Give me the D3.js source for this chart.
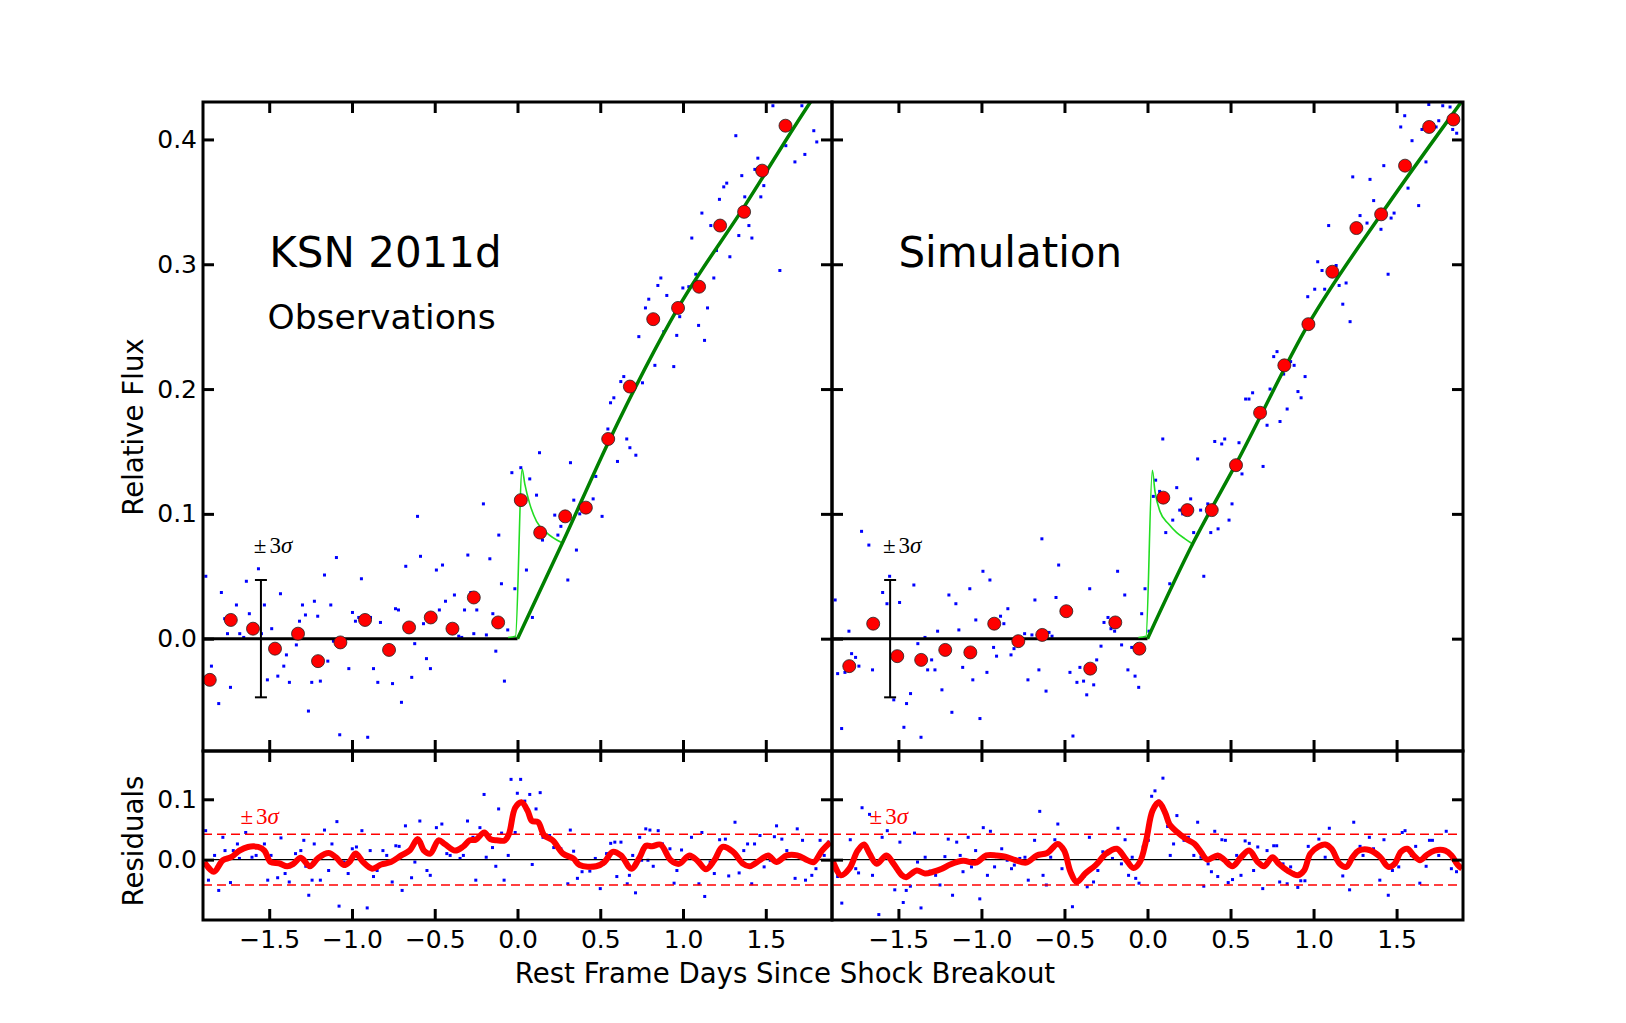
<!DOCTYPE html>
<html>
<head>
<meta charset="utf-8">
<script src="https://cdn.jsdelivr.net/npm/d3@7"></script>
<style>
  body { margin: 0; background: #fff; }
  svg { display: block; font-family: "DejaVu Sans", sans-serif; }
</style>
</head>
<body>
<svg id="canvas" width="1626" height="1023"></svg>
<script>
(function () {

    // Axis domains and ticks.
    var dayDomain = [-1.9, 1.9];
    var fluxDomain = [-0.09, 0.43];
    var residDomain = [-0.1, 0.18];
    var dayTicks = [-1.5, -1.0, -0.5, 0.0, 0.5, 1.0, 1.5];
    var fluxTicks = [0.0, 0.1, 0.2, 0.3, 0.4];
    var residTicks = [0.0, 0.1];

    // Error bar (+-3 sigma) and residual band.
    var sigmaBarDay = -1.55;
    var sigmaFlux = 0.047;
    var sigmaResid = 0.042;

    // Binned fluxes (red dots).
    var obsBin = [[-1.859,-0.033],[-1.732,0.015],[-1.598,0.008],[-1.465,-0.008],[-1.326,0.004],[-1.205,-0.018],[-1.070,-0.003],[-0.921,0.015],[-0.776,-0.009],[-0.655,0.009],[-0.524,0.017],[-0.393,0.008],[-0.264,0.033],[-0.117,0.013],[0.020,0.111],[0.137,0.085],[0.288,0.098],[0.413,0.105],[0.548,0.160],[0.679,0.202],[0.820,0.256],[0.970,0.265],[1.097,0.282],[1.224,0.331],[1.369,0.342],[1.478,0.375],[1.619,0.411]];
    var simBin = [[-1.796,-0.022],[-1.652,0.012],[-1.507,-0.014],[-1.363,-0.017],[-1.218,-0.009],[-1.067,-0.011],[-0.923,0.012],[-0.778,-0.002],[-0.634,0.003],[-0.489,0.022],[-0.345,-0.024],[-0.194,0.013],[-0.049,-0.008],[0.095,0.113],[0.240,0.103],[0.387,0.103],[0.533,0.139],[0.678,0.181],[0.824,0.219],[0.969,0.252],[1.113,0.294],[1.258,0.329],[1.407,0.340],[1.551,0.379],[1.696,0.410],[1.842,0.416]];

    // Raw fluxes (blue points).
    var obsRaw = [[-1.883,0.050],[-1.789,0.037],[-1.849,-0.022],[-1.805,-0.052],[-1.734,-0.039],[-1.752,0.004],[-1.769,0.016],[-1.698,0.027],[-1.678,0.004],[-1.654,0.001],[-1.638,0.046],[-1.620,0.020],[-1.565,0.056],[-1.529,0.027],[-1.547,0.004],[-1.485,0.008],[-1.511,-0.033],[-1.448,-0.030],[-1.432,0.036],[-1.396,-0.013],[-1.412,-0.022],[-1.378,-0.035],[-1.336,-0.005],[-1.317,0.014],[-1.299,0.027],[-1.281,0.019],[-1.263,-0.058],[-1.243,-0.035],[-1.227,0.030],[-1.207,0.018],[-1.191,-0.034],[-1.166,0.051],[-1.146,-0.018],[-1.128,0.027],[-1.112,-0.002],[-1.094,0.065],[-1.074,-0.077],[-1.019,-0.024],[-0.997,0.021],[-0.979,0.014],[-0.959,0.017],[-0.943,0.048],[-0.905,-0.079],[-0.888,0.017],[-0.870,-0.024],[-0.844,-0.035],[-0.828,0.013],[-0.755,-0.036],[-0.737,0.024],[-0.719,0.023],[-0.701,-0.051],[-0.675,0.058],[-0.639,-0.031],[-0.621,-0.004],[-0.604,0.098],[-0.586,0.066],[-0.568,0.012],[-0.550,-0.016],[-0.526,-0.024],[-0.490,0.055],[-0.472,0.023],[-0.453,0.059],[-0.435,0.030],[-0.381,0.035],[-0.355,0.002],[-0.337,0.001],[-0.320,0.023],[-0.300,0.067],[-0.282,0.037],[-0.264,0.004],[-0.246,0.023],[-0.206,0.108],[-0.188,0.003],[-0.167,0.064],[-0.149,0.020],[-0.131,-0.010],[-0.113,0.083],[-0.097,0.044],[-0.079,-0.034],[-0.059,0.007],[-0.034,0.133],[-0.016,0.040],[0.020,0.137],[0.054,0.055],[0.074,0.128],[0.090,0.017],[0.115,0.115],[0.133,0.149],[0.151,0.079],[0.225,0.099],[0.244,0.083],[0.262,0.090],[0.304,0.047],[0.320,0.141],[0.340,0.111],[0.356,0.071],[0.376,0.100],[0.457,0.112],[0.473,0.130],[0.511,0.098],[0.546,0.168],[0.562,0.189],[0.604,0.142],[0.660,0.160],[0.679,0.153],[0.715,0.147],[0.582,0.193],[0.624,0.206],[0.642,0.210],[0.755,0.205],[0.733,0.242],[0.830,0.219],[0.944,0.218],[0.773,0.265],[0.793,0.272],[0.848,0.283],[0.866,0.289],[0.902,0.275],[0.884,0.246],[0.962,0.243],[0.980,0.258],[0.999,0.281],[1.035,0.282],[1.077,0.292],[1.094,0.251],[1.130,0.239],[1.148,0.265],[1.186,0.289],[1.053,0.321],[1.114,0.341],[1.168,0.331],[1.202,0.311],[1.220,0.352],[1.246,0.362],[1.264,0.365],[1.283,0.306],[1.319,0.403],[1.337,0.323],[1.355,0.371],[1.373,0.354],[1.398,0.331],[1.416,0.321],[1.434,0.376],[1.452,0.385],[1.470,0.354],[1.488,0.363],[1.543,0.427],[1.585,0.295],[1.621,0.395],[1.676,0.382],[1.718,0.427],[1.736,0.388],[1.790,0.407],[1.808,0.398]];
    var simRaw = [[-1.881,0.031],[-1.866,-0.028],[-1.842,-0.072],[-1.798,0.006],[-1.822,-0.027],[-1.782,-0.012],[-1.758,-0.015],[-1.738,-0.022],[-1.722,0.086],[-1.678,0.075],[-1.656,-0.025],[-1.595,0.037],[-1.569,0.028],[-1.553,0.050],[-1.528,-0.049],[-1.493,0.029],[-1.467,-0.071],[-1.451,-0.052],[-1.427,-0.044],[-1.407,0.043],[-1.383,-0.004],[-1.364,-0.079],[-1.340,0.001],[-1.324,-0.025],[-1.300,-0.017],[-1.280,-0.025],[-1.264,0.006],[-1.238,-0.041],[-1.196,0.035],[-1.178,-0.059],[-1.154,0.028],[-1.136,0.007],[-1.113,-0.023],[-1.070,0.040],[-1.052,-0.033],[-1.034,0.015],[-1.009,-0.064],[-0.991,0.054],[-0.967,-0.027],[-0.949,0.047],[-0.927,-0.007],[-0.909,-0.014],[-0.885,0.018],[-0.865,0.012],[-0.841,0.024],[-0.822,-0.013],[-0.804,-0.008],[-0.740,0.004],[-0.720,-0.033],[-0.696,0.003],[-0.678,0.031],[-0.654,-0.025],[-0.636,0.080],[-0.611,-0.042],[-0.593,0.005],[-0.575,0.002],[-0.551,0.033],[-0.535,0.059],[-0.467,-0.027],[-0.449,-0.078],[-0.425,-0.035],[-0.407,-0.023],[-0.385,-0.034],[-0.366,-0.045],[-0.348,0.040],[-0.324,-0.037],[-0.306,-0.017],[-0.280,-0.006],[-0.262,0.013],[-0.238,0.017],[-0.220,0.008],[-0.198,0.006],[-0.180,0.054],[-0.156,-0.005],[-0.137,0.035],[-0.118,-0.025],[-0.095,-0.007],[-0.075,-0.030],[-0.053,-0.039],[-0.035,0.020],[-0.015,0.040],[0.009,0.006],[0.035,0.114],[0.049,0.127],[0.073,0.118],[0.092,0.160],[0.110,0.085],[0.134,0.044],[0.152,0.095],[0.176,0.121],[0.194,0.103],[0.212,0.100],[0.260,0.112],[0.278,0.085],[0.302,0.144],[0.320,0.103],[0.339,0.050],[0.363,0.108],[0.381,0.085],[0.405,0.158],[0.425,0.088],[0.447,0.156],[0.465,0.160],[0.491,0.095],[0.509,0.108],[0.551,0.157],[0.569,0.132],[0.696,0.138],[0.720,0.171],[0.798,0.174],[0.841,0.184],[0.591,0.192],[0.611,0.192],[0.633,0.197],[0.738,0.200],[0.760,0.226],[0.780,0.230],[0.820,0.212],[0.862,0.222],[0.883,0.219],[0.906,0.198],[0.925,0.193],[0.949,0.210],[0.965,0.274],[1.007,0.280],[1.025,0.302],[1.051,0.295],[1.067,0.280],[1.091,0.331],[1.136,0.299],[1.154,0.283],[1.176,0.268],[1.196,0.285],[1.220,0.254],[1.236,0.370],[1.280,0.339],[1.322,0.333],[1.340,0.368],[1.362,0.351],[1.406,0.328],[1.423,0.379],[1.449,0.292],[1.467,0.337],[1.485,0.341],[1.525,0.410],[1.549,0.419],[1.569,0.361],[1.593,0.399],[1.633,0.347],[1.653,0.408],[1.677,0.382],[1.694,0.428],[1.738,0.410],[1.754,0.415],[1.778,0.427],[1.822,0.426],[1.838,0.408],[1.862,0.405]];

    // Pre-explosion baseline (black), rise model (dark green), shock cooling model (light green).
    var baseline = [[-1.9,0],[0,0]];
    var obsRise = [[0,0],[0.276,0.078],[0.548,0.157],[0.970,0.265],[1.369,0.346],[1.770,0.430],[1.950,0.465]];
    var simRise = [[0,0],[0.276,0.077],[0.533,0.140],[0.969,0.252],[1.407,0.340],[1.890,0.430],[1.950,0.441]];
    var obsShock = [[-0.057,0.001],[-0.012,0.002],[0.028,0.136],[0.044,0.124],[0.074,0.108],[0.115,0.094],[0.175,0.085],[0.266,0.077]];
    var simShock = [[-0.055,0.001],[-0.009,0.002],[0.029,0.135],[0.045,0.118],[0.075,0.102],[0.126,0.092],[0.176,0.085],[0.226,0.080],[0.270,0.076]];

    // Residual points (blue) and smoothed residuals (red).
    var obsResid = [[-1.884,0.048],[-1.867,-0.034],[-1.830,0.007],[-1.805,-0.051],[-1.780,0.037],[-1.767,0.015],[-1.734,-0.038],[-1.717,0.015],[-1.692,0.026],[-1.680,0.002],[-1.642,0.045],[-1.604,0.004],[-1.579,0.007],[-1.529,0.026],[-1.509,-0.034],[-1.489,0.007],[-1.449,-0.030],[-1.429,0.036],[-1.404,-0.023],[-1.379,-0.037],[-1.341,0.010],[-1.309,0.015],[-1.291,0.032],[-1.279,-0.011],[-1.261,-0.059],[-1.241,-0.034],[-1.228,0.026],[-1.191,-0.034],[-1.166,0.049],[-1.141,-0.018],[-1.121,0.026],[-1.091,0.063],[-1.078,-0.077],[-1.048,-0.004],[-1.023,-0.023],[-0.998,0.018],[-0.973,0.021],[-0.940,0.048],[-0.908,-0.080],[-0.890,0.015],[-0.870,-0.028],[-0.848,-0.018],[-0.813,0.015],[-0.790,0.007],[-0.757,-0.037],[-0.735,0.023],[-0.715,0.022],[-0.697,-0.051],[-0.677,0.056],[-0.640,-0.030],[-0.620,-0.004],[-0.590,0.064],[-0.572,0.015],[-0.547,-0.018],[-0.527,-0.026],[-0.490,0.053],[-0.457,0.059],[-0.427,0.010],[-0.407,0.007],[-0.347,0.002],[-0.327,0.007],[-0.302,0.064],[-0.287,0.032],[-0.269,0.037],[-0.252,-0.034],[-0.227,0.053],[-0.202,0.108],[-0.189,0.004],[-0.151,0.020],[-0.131,-0.011],[-0.114,0.084],[-0.096,0.044],[-0.081,-0.034],[-0.056,0.007],[-0.039,0.133],[-0.014,0.045],[-0.001,0.110],[0.019,0.133],[0.044,0.097],[0.074,0.108],[0.089,-0.008],[0.112,0.084],[0.137,0.111],[0.154,0.037],[0.194,0.040],[0.219,0.020],[0.262,0.018],[0.304,-0.040],[0.319,0.049],[0.339,0.014],[0.362,-0.031],[0.390,-0.020],[0.437,-0.019],[0.470,0.002],[0.500,-0.048],[0.520,-0.007],[0.538,0.010],[0.563,0.027],[0.588,0.029],[0.600,-0.028],[0.625,0.029],[0.663,-0.040],[0.676,-0.026],[0.696,0.007],[0.713,-0.055],[0.738,0.037],[0.750,-0.001],[0.775,0.051],[0.788,-0.001],[0.800,0.049],[0.820,-0.011],[0.850,0.048],[0.876,0.026],[0.921,0.018],[0.946,-0.039],[0.963,-0.018],[0.991,0.016],[1.013,0.002],[1.051,0.037],[1.096,-0.040],[1.114,0.045],[1.131,-0.061],[1.164,-0.004],[1.189,-0.023],[1.221,0.033],[1.256,0.034],[1.276,-0.027],[1.314,0.062],[1.339,-0.022],[1.367,0.015],[1.390,0.026],[1.415,-0.040],[1.432,0.026],[1.465,0.040],[1.490,-0.012],[1.527,-0.001],[1.552,0.038],[1.565,0.056],[1.597,0.034],[1.627,0.015],[1.677,-0.031],[1.690,0.051],[1.722,0.032],[1.740,-0.034],[1.778,-0.026],[1.803,-0.015],[1.828,0.032],[1.853,0.007],[1.878,0.029]];
    var simResid = [[-1.866,-0.028],[-1.841,-0.072],[-1.790,0.033],[-1.757,-0.015],[-1.740,-0.022],[-1.719,0.086],[-1.674,0.075],[-1.656,-0.026],[-1.618,-0.091],[-1.598,0.037],[-1.567,0.048],[-1.542,-0.001],[-1.522,-0.050],[-1.491,0.029],[-1.471,-0.071],[-1.453,-0.051],[-1.428,-0.044],[-1.403,0.044],[-1.385,-0.004],[-1.364,-0.080],[-1.339,0.004],[-1.309,-0.019],[-1.276,-0.026],[-1.250,-0.042],[-1.220,0.005],[-1.200,0.034],[-1.174,-0.059],[-1.149,0.029],[-1.128,0.007],[-1.111,-0.020],[-1.080,0.037],[-1.060,-0.012],[-1.035,0.015],[-1.010,-0.065],[-0.989,0.053],[-0.964,-0.026],[-0.946,0.047],[-0.921,-0.012],[-0.895,0.007],[-0.878,0.018],[-0.845,-0.001],[-0.819,-0.015],[-0.802,-0.009],[-0.769,0.002],[-0.738,0.004],[-0.718,-0.034],[-0.680,0.032],[-0.649,0.080],[-0.629,-0.026],[-0.609,-0.042],[-0.583,0.004],[-0.558,0.033],[-0.540,0.059],[-0.515,-0.015],[-0.452,-0.078],[-0.414,-0.034],[-0.380,-0.027],[-0.363,-0.045],[-0.350,0.037],[-0.325,-0.037],[-0.299,-0.018],[-0.269,0.013],[-0.236,0.015],[-0.211,0.002],[-0.178,0.052],[-0.157,-0.007],[-0.135,0.033],[-0.114,-0.026],[-0.092,0.004],[-0.071,-0.031],[-0.051,-0.039],[-0.026,0.021],[0.005,0.032],[0.025,0.105],[0.045,0.114],[0.068,0.097],[0.093,0.135],[0.121,0.055],[0.137,0.007],[0.157,0.026],[0.177,0.073],[0.203,0.040],[0.220,0.032],[0.246,0.037],[0.279,0.007],[0.302,0.062],[0.322,0.004],[0.339,-0.044],[0.365,-0.007],[0.385,-0.020],[0.405,0.047],[0.423,-0.028],[0.448,0.033],[0.469,0.032],[0.486,-0.038],[0.512,-0.033],[0.537,0.007],[0.563,-0.026],[0.588,0.031],[0.613,0.027],[0.639,-0.018],[0.664,0.021],[0.694,-0.048],[0.720,0.015],[0.745,0.004],[0.760,0.023],[0.778,0.023],[0.796,-0.037],[0.816,-0.007],[0.841,-0.040],[0.862,-0.012],[0.879,-0.022],[0.905,-0.046],[0.923,-0.035],[0.948,-0.035],[0.968,0.022],[1.006,0.018],[1.032,0.034],[1.070,0.004],[1.095,0.052],[1.133,0.000],[1.176,-0.027],[1.217,-0.050],[1.242,0.062],[1.280,0.022],[1.298,0.007],[1.336,0.037],[1.361,0.018],[1.399,-0.034],[1.424,0.033],[1.450,-0.059],[1.475,-0.018],[1.513,-0.012],[1.534,0.045],[1.551,0.048],[1.589,0.007],[1.615,0.022],[1.640,-0.039],[1.678,-0.011],[1.698,0.032],[1.716,0.032],[1.754,0.007],[1.799,0.047],[1.830,-0.015],[1.861,-0.020]];
    var obsResidSmooth = [[-1.892,-0.004],[-1.835,-0.020],[-1.780,-0.001],[-1.730,0.004],[-1.680,0.015],[-1.629,0.021],[-1.567,0.021],[-1.529,0.015],[-1.492,-0.004],[-1.441,-0.006],[-1.391,-0.011],[-1.354,-0.007],[-1.309,0.003],[-1.254,-0.011],[-1.203,0.003],[-1.141,0.011],[-1.098,0.004],[-1.048,-0.009],[-1.016,-0.004],[-0.978,0.010],[-0.933,-0.004],[-0.878,-0.015],[-0.823,-0.008],[-0.765,-0.004],[-0.702,0.007],[-0.652,0.015],[-0.602,0.034],[-0.565,0.015],[-0.527,0.010],[-0.477,0.032],[-0.440,0.026],[-0.377,0.015],[-0.327,0.022],[-0.289,0.032],[-0.252,0.033],[-0.201,0.045],[-0.164,0.034],[-0.126,0.032],[-0.076,0.032],[-0.051,0.043],[-0.014,0.086],[0.024,0.095],[0.061,0.081],[0.087,0.064],[0.124,0.062],[0.162,0.040],[0.212,0.032],[0.275,0.010],[0.337,0.002],[0.375,-0.009],[0.475,-0.011],[0.525,-0.004],[0.575,0.013],[0.625,0.007],[0.688,-0.015],[0.738,0.004],[0.776,0.023],[0.813,0.022],[0.863,0.025],[0.926,-0.001],[0.976,-0.007],[1.038,0.007],[1.088,-0.002],[1.139,-0.016],[1.189,-0.001],[1.239,0.021],[1.302,0.013],[1.364,-0.007],[1.402,-0.011],[1.464,-0.001],[1.514,0.007],[1.564,-0.004],[1.627,0.007],[1.690,0.007],[1.752,-0.001],[1.790,-0.004],[1.840,0.015],[1.890,0.029]];
    var simResidSmooth = [[-1.897,-0.001],[-1.846,-0.026],[-1.796,-0.015],[-1.745,0.015],[-1.707,0.025],[-1.674,0.010],[-1.631,-0.007],[-1.572,0.007],[-1.529,-0.007],[-1.478,-0.026],[-1.453,-0.029],[-1.390,-0.018],[-1.340,-0.023],[-1.289,-0.020],[-1.238,-0.015],[-1.188,-0.008],[-1.111,-0.002],[-1.035,-0.005],[-0.971,0.007],[-0.908,0.007],[-0.857,0.005],[-0.794,-0.001],[-0.730,-0.005],[-0.667,0.007],[-0.604,0.011],[-0.540,0.026],[-0.502,0.015],[-0.464,-0.020],[-0.426,-0.037],[-0.375,-0.023],[-0.312,-0.009],[-0.249,0.010],[-0.185,0.018],[-0.134,0.002],[-0.084,-0.014],[-0.046,-0.004],[-0.008,0.032],[0.030,0.081],[0.068,0.095],[0.106,0.078],[0.132,0.059],[0.182,0.045],[0.233,0.034],[0.284,0.026],[0.321,0.013],[0.360,0.000],[0.423,0.007],[0.461,0.000],[0.512,-0.011],[0.563,0.004],[0.613,0.015],[0.664,-0.004],[0.702,-0.011],[0.753,0.004],[0.791,-0.007],[0.842,-0.018],[0.905,-0.026],[0.943,-0.018],[0.981,0.010],[1.032,0.022],[1.070,0.025],[1.108,0.018],[1.158,-0.007],[1.197,-0.012],[1.235,0.004],[1.273,0.015],[1.336,0.016],[1.399,0.005],[1.450,-0.012],[1.488,-0.007],[1.526,0.013],[1.565,0.018],[1.603,0.007],[1.641,-0.001],[1.678,0.007],[1.729,0.015],[1.793,0.015],[1.831,0.007],[1.869,-0.009],[1.894,-0.015]];

    // Layout.
    var top = 102, split = 751, bottom = 920;
    var tickLen = 11;
    var panels = [
        { left: 203, right: 832, title: "KSN 2011d", subtitle: "Observations", bin: obsBin, raw: obsRaw, rise: obsRise, shock: obsShock, resid: obsResid, smooth: obsResidSmooth, labels: true },
        { left: 832, right: 1463, title: "Simulation", subtitle: null, bin: simBin, raw: simRaw, rise: simRise, shock: simShock, resid: simResid, smooth: simResidSmooth, labels: false }
    ];

    var svg = d3.select("#canvas");
    var fmt = d3.format(".1f");

    // Draw a framed box with inward ticks on all four sides.
    function frame(g, x, y, xt, yt, showX, showY) {
        var x0 = x.range()[0], x1 = x.range()[1];
        var y0 = y.range()[1], y1 = y.range()[0];
        var axes = [
            { a: d3.axisBottom(x).tickValues(xt), t: "translate(0," + y1 + ")", lab: showX },
            { a: d3.axisTop(x).tickValues(xt), t: "translate(0," + y0 + ")", lab: false },
            { a: d3.axisLeft(y).tickValues(yt), t: "translate(" + x0 + ",0)", lab: showY },
            { a: d3.axisRight(y).tickValues(yt), t: "translate(" + x1 + ",0)", lab: false }
        ];
        axes.forEach(function (d, i) {
            d.a.tickSizeInner(-tickLen).tickSizeOuter(0)
                .tickPadding(i === 0 ? 10 : 6)
                .tickFormat(d.lab ? fmt : "");
            var ag = g.append("g").attr("transform", d.t).call(d.a);
            ag.select(".domain").remove();
            ag.selectAll(".tick line").attr("stroke", "#000").attr("stroke-width", 3);
            ag.selectAll(".tick text")
                .attr("fill", "#000")
                .style("font-family", "DejaVu Sans")
                .style("font-size", "25px");
        });
        g.append("rect")
            .attr("x", x0).attr("y", y0)
            .attr("width", x1 - x0).attr("height", y1 - y0)
            .attr("fill", "none").attr("stroke", "#000").attr("stroke-width", 3);
    }

    // "+-3 sigma" in a math-like serif face.
    function sigmaLabel(g, x, y, colour) {
        var t = g.append("text")
            .attr("x", x).attr("y", y)
            .attr("fill", colour)
            .style("font-family", "Liberation Serif, DejaVu Serif, serif")
            .style("font-size", "23px");
        t.append("tspan").text("\u00b1");
        t.append("tspan").attr("dx", 3).text("3");
        t.append("tspan").attr("font-style", "italic").text("\u03c3");
    }

    panels.forEach(function (p, i) {
        var x = d3.scaleLinear().domain(dayDomain).range([p.left, p.right]);
        var yMain = d3.scaleLinear().domain(fluxDomain).range([split, top]);
        var yRes = d3.scaleLinear().domain(residDomain).range([bottom, split]);

        var defs = svg.append("defs");
        defs.append("clipPath").attr("id", "clipM" + i).append("rect")
            .attr("x", p.left).attr("y", top).attr("width", p.right - p.left).attr("height", split - top);
        defs.append("clipPath").attr("id", "clipR" + i).append("rect")
            .attr("x", p.left).attr("y", split).attr("width", p.right - p.left).attr("height", bottom - split);

        var line = function (ys, curve) {
            return d3.line().x(d => x(d[0])).y(d => ys(d[1])).curve(curve || d3.curveLinear);
        };

        // Main light-curve panel.
        var m = svg.append("g").attr("clip-path", "url(#clipM" + i + ")");

        m.selectAll("rect.raw").data(p.raw).enter().append("rect")
            .attr("class", "raw")
            .attr("x", d => x(d[0]) - 1.5).attr("y", d => yMain(d[1]) - 1.5)
            .attr("width", 3).attr("height", 3)
            .attr("fill", "#0000ff");

        m.append("path").datum(baseline)
            .attr("d", line(yMain))
            .attr("fill", "none").attr("stroke", "#000").attr("stroke-width", 3);
        m.append("path").datum(p.shock)
            .attr("d", line(yMain, d3.curveMonotoneX))
            .attr("fill", "none").attr("stroke", "#22dd22").attr("stroke-width", 1.6);
        m.append("path").datum(p.rise)
            .attr("d", line(yMain, d3.curveMonotoneX))
            .attr("fill", "none").attr("stroke", "#008000").attr("stroke-width", 3.5);

        m.selectAll("circle.bin").data(p.bin).enter().append("circle")
            .attr("class", "bin")
            .attr("cx", d => x(d[0])).attr("cy", d => yMain(d[1]))
            .attr("r", 6.5)
            .attr("fill", "#ff0000").attr("stroke", "#222").attr("stroke-width", 0.8);

        // Error bar of +-3 sigma.
        var eb = svg.append("g").attr("stroke", "#000").attr("stroke-width", 2);
        eb.append("line")
            .attr("x1", x(sigmaBarDay)).attr("x2", x(sigmaBarDay))
            .attr("y1", yMain(sigmaFlux)).attr("y2", yMain(-sigmaFlux));
        [sigmaFlux, -sigmaFlux].forEach(function (v) {
            eb.append("line")
                .attr("x1", x(sigmaBarDay) - 6).attr("x2", x(sigmaBarDay) + 6)
                .attr("y1", yMain(v)).attr("y2", yMain(v));
        });
        sigmaLabel(svg, x(-1.593), yMain(0.069), "#000");

        svg.append("text")
            .attr("x", x(-1.5)).attr("y", yMain(0.298))
            .style("font-size", "42px")
            .text(p.title);
        if (p.subtitle) {
            svg.append("text")
                .attr("x", x(-1.51)).attr("y", yMain(0.2485))
                .style("font-size", "34.5px")
                .text(p.subtitle);
        }

        frame(svg.append("g"), x, yMain, dayTicks, fluxTicks, false, p.labels);

        // Residual panel.
        var r = svg.append("g").attr("clip-path", "url(#clipR" + i + ")");

        r.selectAll("rect.res").data(p.resid).enter().append("rect")
            .attr("class", "res")
            .attr("x", d => x(d[0]) - 1.5).attr("y", d => yRes(d[1]) - 1.5)
            .attr("width", 3).attr("height", 3)
            .attr("fill", "#0000ff");

        r.append("line")
            .attr("x1", x(dayDomain[0])).attr("x2", x(dayDomain[1]))
            .attr("y1", yRes(0)).attr("y2", yRes(0))
            .attr("stroke", "#000").attr("stroke-width", 1.3);
        [sigmaResid, -sigmaResid].forEach(function (v) {
            r.append("line")
                .attr("x1", x(dayDomain[0])).attr("x2", x(dayDomain[1]))
                .attr("y1", yRes(v)).attr("y2", yRes(v))
                .attr("stroke", "#ff0000").attr("stroke-width", 1.6)
                .attr("stroke-dasharray", "9,5");
        });
        r.append("path").datum(p.smooth)
            .attr("d", line(yRes, d3.curveCatmullRom.alpha(0.5)))
            .attr("fill", "none").attr("stroke", "#ff0000").attr("stroke-width", 6)
            .attr("stroke-linejoin", "round");

        sigmaLabel(svg, x(-1.674), yRes(0.059), "#ff0000");

        frame(svg.append("g"), x, yRes, dayTicks, residTicks, true, p.labels);
    });

    // Axis titles.
    svg.append("text")
        .attr("x", 785).attr("y", 983)
        .attr("text-anchor", "middle")
        .style("font-size", "27.6px")
        .text("Rest Frame Days Since Shock Breakout");
    svg.append("text")
        .attr("transform", "translate(143,427) rotate(-90)")
        .attr("text-anchor", "middle")
        .style("font-size", "27.6px")
        .text("Relative Flux");
    svg.append("text")
        .attr("transform", "translate(143,841) rotate(-90)")
        .attr("text-anchor", "middle")
        .style("font-size", "27.6px")
        .text("Residuals");

})();
</script>
</body>
</html>
